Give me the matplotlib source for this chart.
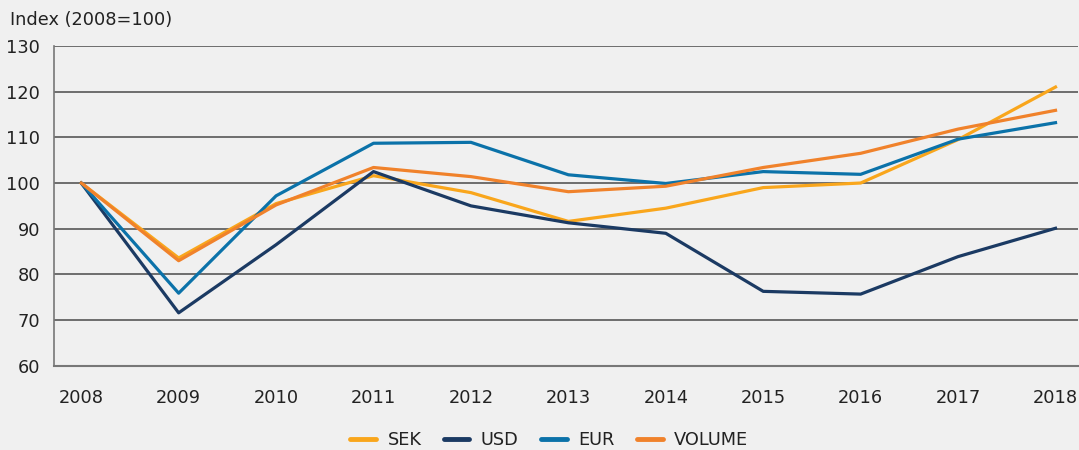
import numpy as np
import matplotlib
matplotlib.use("Agg")
import matplotlib.pyplot as plt

# Index values, 2008 = 100
years = np.array([2008, 2009, 2010, 2011, 2012, 2013, 2014, 2015, 2016, 2017, 2018])
sek = np.array([100, 83.6, 95.5, 101.6, 97.9, 91.6, 94.5, 99.0, 100.0, 109.5, 121.0])
usd = np.array([100, 71.6, 86.5, 102.5, 95.0, 91.3, 89.0, 76.3, 75.7, 83.9, 90.1])
eur = np.array([100, 75.9, 97.2, 108.7, 108.9, 101.8, 99.9, 102.5, 101.9, 109.6, 113.2])
volume = np.array([100, 83.0, 95.2, 103.4, 101.4, 98.1, 99.3, 103.4, 106.5, 111.8, 115.9])

bg = "#f0f0f0"
plt.rcParams["font.family"] = "DejaVu Sans"

fig = plt.figure(figsize=(10.79, 4.5), dpi=100, facecolor=bg)
ax = fig.add_axes([0.050, 0.187, 0.949, 0.711], facecolor=bg)

ax.plot(years, sek, color="#f9a61c", lw=2.3, label="SEK")
ax.plot(years, usd, color="#1b3a63", lw=2.3, label="USD")
ax.plot(years, eur, color="#0b72a9", lw=2.3, label="EUR")
ax.plot(years, volume, color="#f0822b", lw=2.3, label="VOLUME")

ax.set_ylim(60, 130)
ax.set_xlim(2007.72, 2018.23)
ax.set_yticks(range(60, 131, 10))
ax.set_xticks(years)
ax.yaxis.grid(True, color="#4a4a4a", lw=1.1)
ax.set_axisbelow(True)
for s in ["top", "right"]:
    ax.spines[s].set_visible(False)
ax.spines["bottom"].set_color("#777777")
ax.spines["bottom"].set_linewidth(1.5)
ax.spines["left"].set_color("#777777")
ax.spines["left"].set_linewidth(1.2)
ax.tick_params(axis="both", length=0, labelsize=12.8, colors="#222222")
ax.tick_params(axis="x", pad=17)
ax.tick_params(axis="y", pad=10)

fig.text(0.009, 0.955, "Index (2008=100)", fontsize=12.8, color="#222222", va="center")

leg = fig.legend(loc="center", bbox_to_anchor=(0.509, 0.022), ncol=4, frameon=False,
                 fontsize=12.8, handlelength=1.45, columnspacing=1.25, handletextpad=0.65)
for t in leg.get_texts():
    t.set_color("#222222")
for h in leg.get_lines():
    h.set_linewidth(3.5)
    h.set_solid_capstyle("round")

fig.savefig("out.png", dpi=100, facecolor=bg)
